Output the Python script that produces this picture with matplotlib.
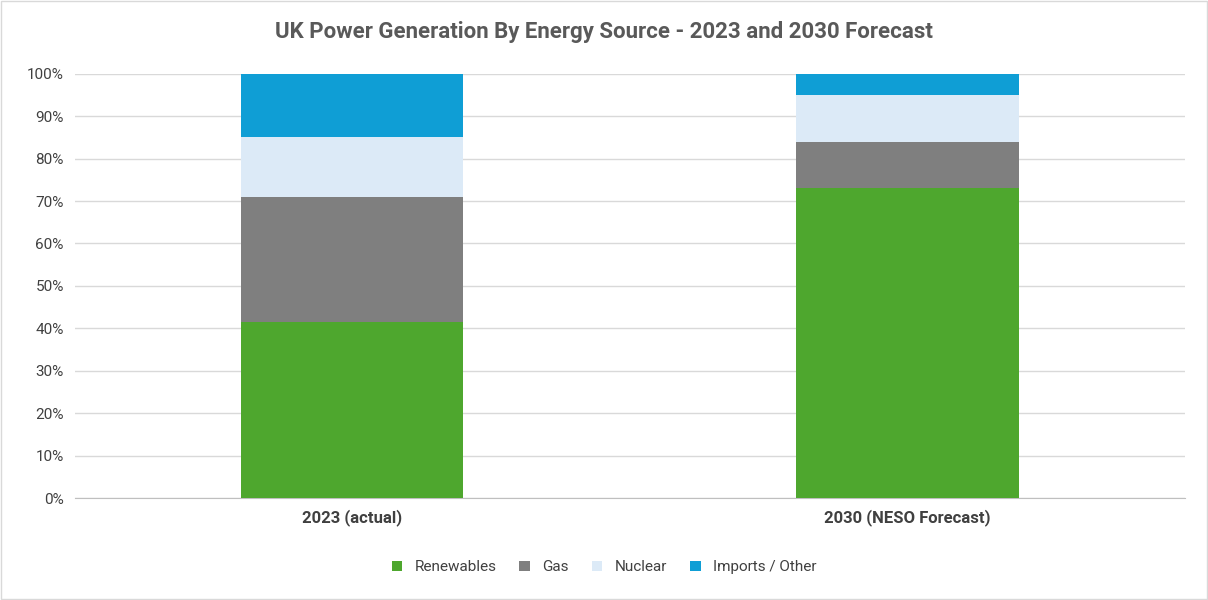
import matplotlib.pyplot as plt
import matplotlib.patches as mpatches
import numpy as np

categories = ['2023 (actual)', '2030 (NESO Forecast)']
renewables = [41.5, 73]
gas = [29.5, 11]
nuclear = [14, 11]
imports_other = [15, 5]

series = [('Renewables', renewables, '#4ea72e'),
          ('Gas', gas, '#7f7f7f'),
          ('Nuclear', nuclear, '#dceaf7'),
          ('Imports / Other', imports_other, '#0f9ed5')]

plt.rcParams['font.family'] = ['Roboto', 'DejaVu Sans']

fig = plt.figure(figsize=(12.08, 6), dpi=100)
fig.patches.append(mpatches.Rectangle((0.001, 0.002), 0.998, 0.996, transform=fig.transFigure,
                                      fill=False, edgecolor='#d9d9d9', linewidth=1))
ax = fig.add_axes([0.062, 0.17, 0.919, 0.707])

x = np.arange(len(categories))
bottom = np.zeros(len(categories))
for name, vals, color in series:
    ax.bar(x, vals, 0.4, bottom=bottom, color=color, label=name, zorder=3)
    bottom += np.array(vals)

ax.set_xlim(-0.5, 1.5)
ax.set_ylim(0, 100)
ax.set_yticks(range(0, 101, 10))
ax.set_yticklabels([f'{v}%' for v in range(0, 101, 10)], fontsize=11, color='#404040')
ax.set_xticks(x)
ax.set_xticklabels(categories, fontsize=12, fontweight='bold', color='#404040')
ax.tick_params(length=0, pad=8)
ax.grid(axis='y', color='#d9d9d9', linewidth=1, zorder=0)
for s in ['top', 'right', 'left']:
    ax.spines[s].set_visible(False)
ax.spines['bottom'].set_color('#bfbfbf')

fig.suptitle('UK Power Generation By Energy Source - 2023 and 2030 Forecast',
             y=0.965, fontsize=16, fontweight='bold', color='#595959')
fig.legend(loc='lower center', ncol=4, frameon=False, bbox_to_anchor=(0.5, 0.02),
           fontsize=11, handlelength=0.7, handleheight=0.7, columnspacing=1.5,
           labelcolor='#404040')

fig.savefig('out.png', dpi=100)
